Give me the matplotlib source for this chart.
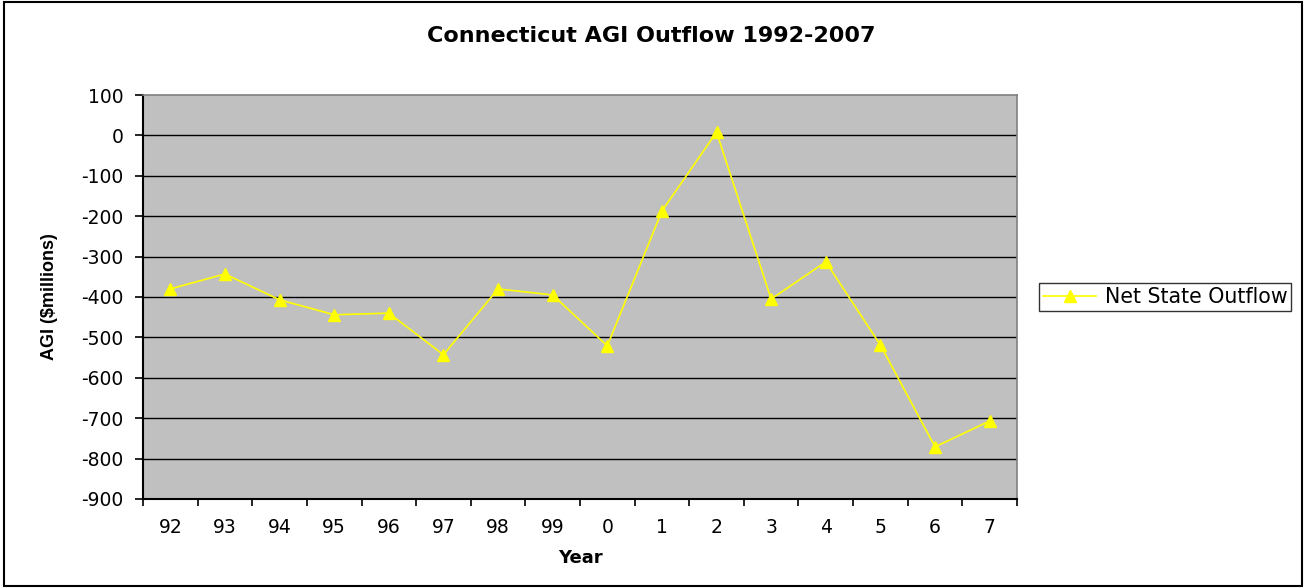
import matplotlib
matplotlib.use("Agg")
import matplotlib.pyplot as plt
from matplotlib.patches import Rectangle

YEARS = ['92', '93', '94', '95', '96', '97', '98', '99',
         '0', '1', '2', '3', '4', '5', '6', '7']
NET_OUTFLOW = [-380, -343, -407, -444, -440, -543, -380, -395,
               -521, -187, 8, -405, -313, -519, -771, -707]
Y_TICKS = [100, 0, -100, -200, -300, -400, -500, -600, -700, -800, -900]

plt.rcParams['font.family'] = ['DejaVu Sans']
plt.rcParams['axes.unicode_minus'] = False

fig = plt.figure(figsize=(13.06, 5.88), dpi=100)
fig.patches.append(Rectangle((0.003, 0.003), 0.994, 0.994, transform=fig.transFigure,
                             fill=False, edgecolor='black', linewidth=1.5))
ax = fig.add_axes([0.1095, 0.1514, 0.6692, 0.687])
ax.set_facecolor('#c0c0c0')

x = list(range(len(YEARS)))
ax.plot(x, NET_OUTFLOW, color='#ffff00', linewidth=1.2, marker='^',
        markersize=8, markerfacecolor='#ffff00', markeredgecolor='#ffff00',
        label='Net State Outflow', zorder=3)

ax.set_xlim(-0.5, len(YEARS) - 0.5)
ax.set_ylim(-900, 100)
ax.set_yticks(Y_TICKS)
ax.set_yticklabels([str(v) for v in Y_TICKS])
for v in Y_TICKS[1:-1]:
    ax.axhline(v, color='black', linewidth=1.0, zorder=1)

ax.set_xticks(x)
ax.set_xticklabels(YEARS)
ax.set_xticks([i - 0.5 for i in range(len(YEARS) + 1)], minor=True)
ax.tick_params(axis='x', which='major', length=0, pad=14, labelsize=13.5)
ax.tick_params(axis='x', which='minor', length=5, width=1.2, direction='out')
ax.tick_params(axis='y', length=6, width=1.2, direction='out', labelsize=13.5, pad=8)

for side in ['left', 'bottom']:
    ax.spines[side].set_linewidth(1.5)
    ax.spines[side].set_color('black')
for side in ['top', 'right']:
    ax.spines[side].set_linewidth(1.2)
    ax.spines[side].set_color('#808080')

fig.text(0.4985, 1 - 35.5 / 588, 'Connecticut AGI Outflow 1992-2007', fontsize=16,
         fontweight='bold', ha='center', va='center')
ax.set_xlabel('Year', fontsize=13, fontweight='bold', labelpad=8)
ax.set_ylabel('AGI ($millions)', fontsize=13, fontweight='bold', labelpad=17,
              family=['Liberation Sans'])

leg = ax.legend(loc='center left', bbox_to_anchor=(1.025, 0.5), frameon=True,
                fancybox=False, fontsize=14.8, handlelength=2.6, borderpad=0.2,
                handletextpad=0.4, borderaxespad=0)
leg.get_frame().set_edgecolor('black')
leg.get_frame().set_linewidth(1.0)

fig.savefig('out.png', dpi=100)
